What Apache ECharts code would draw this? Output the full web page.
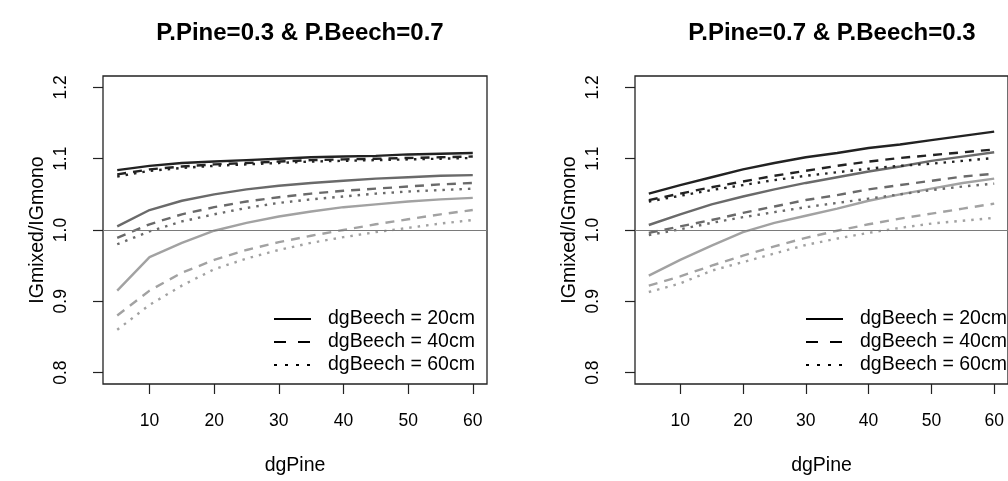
<!DOCTYPE html>
<html>
<head>
<meta charset="utf-8">
<script src="https://cdn.jsdelivr.net/npm/echarts@6/dist/echarts.min.js"></script>
<style>
  html, body { margin: 0; padding: 0; background: #fff; }
  #chart { width: 1008px; height: 481px; }
</style>
</head>
<body>
<div id="chart"></div>
<script>
const dgPine = [5, 10, 15, 20, 25, 30, 35, 40, 45, 50, 55, 60];
const xTicks = [10, 20, 30, 40, 50, 60];
const yTicks = [0.8, 0.9, 1.0, 1.1, 1.2];
const titles = ["P.Pine=0.3 & P.Beech=0.7", "P.Pine=0.7 & P.Beech=0.3"];
const beechNames = ["dgBeech = 20cm", "dgBeech = 40cm", "dgBeech = 60cm"];

// P.Pine=0.3 panel
const p03Dark20 = [1.084, 1.090, 1.094, 1.096, 1.098, 1.100, 1.102, 1.103, 1.104, 1.106, 1.107, 1.108];
const p03Dark40 = [1.078, 1.085, 1.089, 1.092, 1.094, 1.096, 1.098, 1.099, 1.100, 1.101, 1.102, 1.103];
const p03Dark60 = [1.075, 1.083, 1.087, 1.090, 1.092, 1.094, 1.096, 1.097, 1.098, 1.099, 1.100, 1.101];
const p03Mid20 = [1.005, 1.028, 1.041, 1.050, 1.057, 1.062, 1.066, 1.069, 1.072, 1.074, 1.076, 1.077];
const p03Mid40 = [0.989, 1.008, 1.022, 1.032, 1.040, 1.046, 1.051, 1.055, 1.058, 1.061, 1.064, 1.066];
const p03Mid60 = [0.980, 0.998, 1.012, 1.022, 1.031, 1.038, 1.043, 1.047, 1.051, 1.054, 1.056, 1.058];
const p03Light20 = [0.915, 0.962, 0.982, 0.999, 1.010, 1.019, 1.026, 1.032, 1.036, 1.040, 1.043, 1.045];
const p03Light40 = [0.880, 0.915, 0.940, 0.958, 0.972, 0.983, 0.992, 1.000, 1.008, 1.015, 1.022, 1.028];
const p03Light60 = [0.860, 0.895, 0.922, 0.945, 0.960, 0.972, 0.982, 0.990, 0.997, 1.003, 1.009, 1.014];

// P.Pine=0.7 panel
const p07Dark20 = [1.051, 1.063, 1.074, 1.085, 1.094, 1.102, 1.108, 1.115, 1.120, 1.126, 1.132, 1.138];
const p07Dark40 = [1.042, 1.051, 1.060, 1.068, 1.076, 1.083, 1.090, 1.096, 1.101, 1.105, 1.109, 1.113];
const p07Dark60 = [1.040, 1.048, 1.056, 1.063, 1.070, 1.076, 1.081, 1.086, 1.090, 1.093, 1.097, 1.101];
const p07Mid20 = [1.007, 1.022, 1.036, 1.047, 1.057, 1.066, 1.074, 1.082, 1.089, 1.097, 1.103, 1.109];
const p07Mid40 = [0.996, 1.005, 1.014, 1.024, 1.033, 1.042, 1.049, 1.057, 1.063, 1.069, 1.075, 1.079];
const p07Mid60 = [0.993, 1.001, 1.010, 1.018, 1.025, 1.032, 1.038, 1.044, 1.050, 1.056, 1.061, 1.065];
const p07Light20 = [0.936, 0.958, 0.978, 0.997, 1.010, 1.020, 1.030, 1.041, 1.050, 1.058, 1.066, 1.072];
const p07Light40 = [0.922, 0.935, 0.950, 0.964, 0.977, 0.989, 0.999, 1.008, 1.016, 1.023, 1.030, 1.037];
const p07Light60 = [0.913, 0.925, 0.943, 0.955, 0.967, 0.979, 0.988, 0.996, 1.003, 1.009, 1.013, 1.017];

const panels = [
  [[p03Dark20, p03Dark40, p03Dark60], [p03Mid20, p03Mid40, p03Mid60], [p03Light20, p03Light40, p03Light60]],
  [[p07Dark20, p07Dark40, p07Dark60], [p07Mid20, p07Mid40, p07Mid60], [p07Light20, p07Light40, p07Light60]],
];

const greys = ["#222222", "#6a6a6a", "#a2a2a2"];
const dashes = ["solid", [9, 7], [2.5, 6]];
const legendDashes = ["solid", [12, 12], [3, 8]];
const gridLeft = [103, 635];
const font = "Liberation Sans, Arial, sans-serif";

const chart = echarts.init(document.getElementById("chart"));

const grids = gridLeft.map(l => ({
  left: l, top: 76, width: 384, height: 311,
  show: true, borderColor: "#222", borderWidth: 1.3, backgroundColor: "transparent",
}));

const xAxes = gridLeft.map((l, i) => ({
  gridIndex: i, type: "value", min: 2.8, max: 62.2,
  name: "dgPine", nameLocation: "middle", nameGap: 72,
  nameTextStyle: { color: "#000", fontSize: 19.5, fontFamily: font },
  axisLine: { show: false },
  splitLine: { show: false },
  axisTick: { show: true, length: 10, customValues: xTicks, lineStyle: { color: "#222", width: 1.2 } },
  axisLabel: { customValues: xTicks, margin: 28, color: "#000", fontSize: 17.5, fontFamily: font },
}));

const yAxes = gridLeft.map((l, i) => ({
  gridIndex: i, type: "value", min: 0.784, max: 1.216,
  name: "IGmixed/IGmono", nameLocation: "middle", nameGap: 55, nameRotate: 90,
  nameTextStyle: { color: "#000", fontSize: 19.5, fontFamily: font },
  axisLine: { show: false },
  splitLine: { show: false },
  axisTick: { show: true, length: 10, customValues: yTicks, lineStyle: { color: "#222", width: 1.2 } },
  axisLabel: {
    customValues: yTicks, rotate: 90, margin: 33, color: "#000", fontSize: 17.5, fontFamily: font,
    formatter: v => v.toFixed(1),
  },
}));

const series = [];
panels.forEach((shades, p) => {
  shades.forEach((curves, s) => {
    curves.forEach((vals, k) => {
      series.push({
        type: "line", xAxisIndex: p, yAxisIndex: p,
        data: dgPine.map((x, j) => [x, vals[j]]),
        showSymbol: false, symbol: "none", silent: true,
        lineStyle: { color: greys[s], width: 2.4, type: dashes[k] },
        z: 3 + (2 - s),
      });
    });
  });
  // reference line at 1.0
  series.push({
    type: "line", xAxisIndex: p, yAxisIndex: p, data: [], silent: true,
    markLine: {
      silent: true, symbol: "none", label: { show: false },
      lineStyle: { color: "#7a7a7a", width: 1.2, type: "solid" },
      data: [{ yAxis: 1.0 }],
    },
  });
});

// legend entries (black lines)
beechNames.forEach((nm, k) => {
  series.push({
    name: nm, type: "line", xAxisIndex: 0, yAxisIndex: 0, data: [],
    symbol: "none", color: "#000",
    lineStyle: { color: "#000", width: 3, type: legendDashes[k] },
  });
});

const legends = [268, 800].map(l => ({
  orient: "vertical", left: l, top: 304, itemWidth: 37, itemHeight: 14, itemGap: 3,
  selectedMode: false,
  itemStyle: { opacity: 0 },
  textStyle: { color: "#000", fontSize: 19.5, fontFamily: font, padding: [0, 0, 0, 12] },
  data: beechNames,
}));

const option = {
  backgroundColor: "#fff",
  animation: false,
  title: titles.map((t, i) => ({
    text: t, left: gridLeft[i] + 192, top: 16, textAlign: "center",
    textStyle: { color: "#000", fontSize: 24, fontWeight: "bold", fontFamily: font },
  })),
  grid: grids,
  xAxis: xAxes,
  yAxis: yAxes,
  legend: legends,
  series: series,
};

chart.setOption(option);
</script>
</body>
</html>
